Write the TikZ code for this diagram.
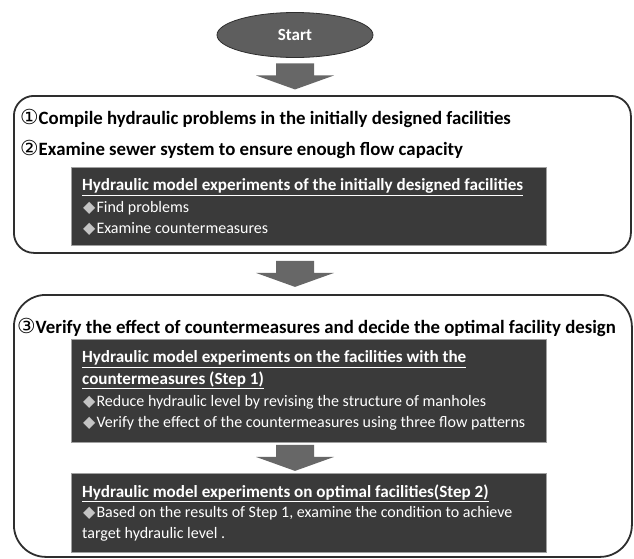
\documentclass[tikz,border=0pt]{standalone}
\usepackage{fontspec}
\setmainfont{Carlito}
\newfontfamily\circfont{DejaVu Sans}
\usepackage{tikz}
\usetikzlibrary{positioning}
\usetikzlibrary{shapes.geometric}
\usepackage{xcolor}

\definecolor{boxline}{HTML}{2E2E2E}
\definecolor{darkfill}{HTML}{3A3A3A}
\definecolor{darkline}{HTML}{A0A0A0}
\definecolor{arrowgray}{HTML}{676767}
\definecolor{startfill}{HTML}{5E5E5E}
\definecolor{bulletgray}{HTML}{C4C4C4}

\newcommand{\bul}{{\circfont\color{bulletgray}\char"25C6}\kern1pt}
\newcommand{\circnum}[1]{{\circfont\mdseries\scalebox{1.1}{#1}}}
\newcommand{\flowarrow}[2]{%
  \path (#1.south -| start) -- (#2.north -| start) coordinate[midway] (m-#1);
  \fill[arrowgray] (m-#1) ++(-19,-13) -- ++(38,0) -- ++(0,12) -- ++(20,0)
    -- ++(-39,14) -- ++(-39,-14) -- ++(20,0) -- cycle;}

\begin{document}
\begin{tikzpicture}[x=1pt,y=-1pt,
    bigbox/.style={draw=boxline,line width=1.8pt,fill=white,anchor=north west,inner sep=0pt},
    darkbox/.style={draw=darkline,line width=0.8pt,fill=darkfill,anchor=north west,inner sep=0pt},
    startnode/.style={ellipse,draw=boxline,line width=0.8pt,fill=startfill,text=white,
      minimum width=156pt,minimum height=45pt,inner sep=0pt,font=\fontsize{17}{20}\selectfont\bfseries},
    flowtext/.style={anchor=west,inner sep=0pt,font=\fontsize{18.8}{22}\selectfont\bfseries},
    headtext/.style={anchor=west,inner sep=0pt,text=white,font=\fontsize{17.1}{20}\selectfont\bfseries},
    itemtext/.style={anchor=west,inner sep=0pt,text=white,font=\fontsize{16}{19}\selectfont}]
    \useasboundingbox (0,0) rectangle (634,558);

    % Start
    \node[startnode] (start) at (295,35) {Start};

    % Step 1 and 2
    \node[bigbox,rounded corners=20pt,minimum width=617pt,minimum height=157pt] (box1) at (13,95) {};
    \node[flowtext] (l1) at (20,118) {\circnum{①}Compile hydraulic problems in the initially designed facilities};
    \node[flowtext] (l2) at (20,149) {\circnum{②}Examine sewer system to ensure enough flow capacity};
    \node[darkbox,minimum width=475pt,minimum height=78pt] (dk1) at (71,167) {};
    \node[headtext] (h1) at (82,187) {\underline{Hydraulic model experiments of the initially designed facilities}};
    \node[itemtext] (i1) at (83,208) {\bul Find problems};
    \node[itemtext] (i2) at (83,229) {\bul Examine countermeasures};

    % Step 3
    \node[bigbox,rounded corners=32pt,minimum width=618pt,minimum height=262pt] (box2) at (13,294) {};
    \node[flowtext] (l3) at (17,327) {\circnum{③}Verify the effect of countermeasures and decide the optimal facility design};
    \node[darkbox,minimum width=475pt,minimum height=103pt] (dk2) at (71,339) {};
    \node[headtext] (h2) at (82,359) {\underline{Hydraulic model experiments on the facilities with the}};
    \node[headtext] (h3) at (82,380) {\underline{countermeasures (Step 1)}};
    \node[itemtext] (i3) at (83,402) {\bul Reduce hydraulic level by revising the structure of manholes};
    \node[itemtext] (i4) at (83,423) {\bul Verify the effect of the countermeasures using three flow patterns};
    \node[darkbox,minimum width=475pt,minimum height=79pt] (dk3) at (71,473) {};
    \node[headtext] (h4) at (82,493) {\underline{Hydraulic model experiments on optimal facilities(Step 2)}};
    \node[itemtext] (i5) at (83,513) {\bul Based on the results of Step 1, examine the condition to achieve};
    \node[itemtext] (i6) at (82,534) {target hydraulic level .};

    % block arrows
    \flowarrow{start}{box1}
    \flowarrow{box1}{box2}
    \flowarrow{dk2}{dk3}
\end{tikzpicture}
\end{document}
